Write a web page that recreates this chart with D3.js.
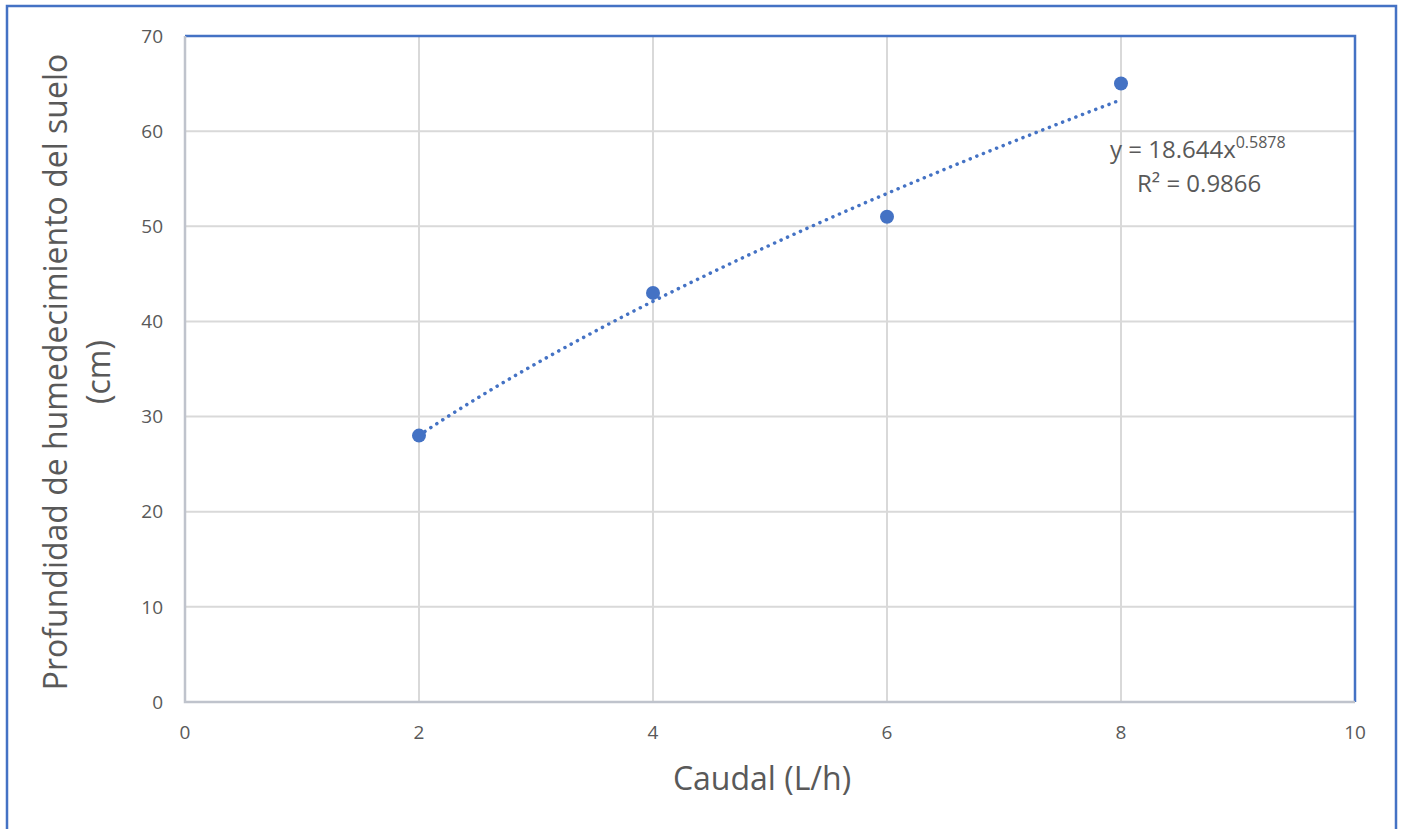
<!DOCTYPE html>
<html><head><meta charset="utf-8">
<script src="https://cdn.jsdelivr.net/npm/d3@7"></script>
<style>body{margin:0;background:#fff}svg{display:block}text{font-family:"Open Sans","Noto Sans",sans-serif}</style>
</head><body><svg id="c" width="1403" height="829"></svg>
<script>
const caudal = [2, 4, 6, 8];
const profundidad = [28, 43, 51, 65];
const xTicks = [0, 2, 4, 6, 8, 10];
const yTicks = [0, 10, 20, 30, 40, 50, 60, 70];
const fitA = 18.644, fitB = 0.5878;
const eqText = "y = 18.644x", eqExp = "0.5878", r2Text = "R² = 0.9866";

const svg = d3.select("#c");
const L = 185, R = 1355, T = 36, B = 702;
const x = d3.scaleLinear().domain([0, 10]).range([L, R]);
const y = d3.scaleLinear().domain([0, 70]).range([B, T]);
const blue = "#4472C4";

// outer border
svg.append("path").attr("d", `M7,840 V6 H1396 V840`).attr("fill", "none").attr("stroke", blue).attr("stroke-width", 2.5);

// gridlines
svg.append("g").selectAll("line").data(yTicks).join("line")
  .attr("x1", L).attr("x2", R).attr("y1", d => y(d)).attr("y2", d => y(d))
  .attr("stroke", "#D9D9D9").attr("stroke-width", 2);
svg.append("g").selectAll("line").data(xTicks).join("line")
  .attr("y1", T).attr("y2", B).attr("x1", d => x(d)).attr("x2", d => x(d))
  .attr("stroke", "#D9D9D9").attr("stroke-width", 2);

// plot area top/right border
svg.append("path").attr("d", `M${L},${T} H${R} V${B}`).attr("fill", "none").attr("stroke", blue).attr("stroke-width", 2.5);
// axes
svg.append("path").attr("d", `M${L},${T} V${B} H${R}`).attr("fill", "none").attr("stroke", "#BFC3CC").attr("stroke-width", 2.5);

// tick labels
svg.append("g").selectAll("text").data(yTicks).join("text")
  .attr("x", 163).attr("y", d => y(d)).attr("dy", "0.35em").attr("text-anchor", "end")
  .attr("font-size", 19).attr("fill", "#595959").text(d => d);
svg.append("g").selectAll("text").data(xTicks).join("text")
  .attr("x", d => x(d)).attr("y", 732).attr("dy", "0.35em").attr("text-anchor", "middle")
  .attr("font-size", 19).attr("fill", "#595959").text(d => d);

// trendline
const trend = d3.range(0, 101).map(i => { const xv = 2 + 6 * i / 100; return [xv, fitA * Math.pow(xv, fitB)]; });
svg.append("path").datum(trend)
  .attr("d", d3.line().x(d => x(d[0])).y(d => y(d[1])))
  .attr("fill", "none").attr("stroke", blue).attr("stroke-width", 3.5)
  .attr("stroke-linecap", "round").attr("stroke-dasharray", "0.1 7");

// points
svg.append("g").selectAll("circle").data(caudal).join("circle")
  .attr("cx", d => x(d)).attr("cy", (d, i) => y(profundidad[i])).attr("r", 7).attr("fill", blue);

// equation
const eq = svg.append("text").attr("x", 1110).attr("y", 158).attr("font-size", 24).attr("fill", "#595959");
eq.append("tspan").text(eqText);
eq.append("tspan").attr("font-size", 16).attr("dy", -10).text(eqExp);
svg.append("text").attr("x", 1137).attr("y", 192).attr("font-size", 24).attr("fill", "#595959").text(r2Text);

// axis titles
svg.append("text").attr("x", 762).attr("y", 790).attr("text-anchor", "middle")
  .attr("font-size", 32).attr("fill", "#595959").text("Caudal (L/h)");
const yt = svg.append("text").attr("transform", "translate(67,372) rotate(-90)").attr("text-anchor", "middle")
  .attr("font-size", 32).attr("fill", "#595959");
yt.append("tspan").attr("x", 0).attr("dy", 0).text("Profundidad de humedecimiento del suelo");
yt.append("tspan").attr("x", 0).attr("dy", 43).text("(cm)");
</script></body></html>
